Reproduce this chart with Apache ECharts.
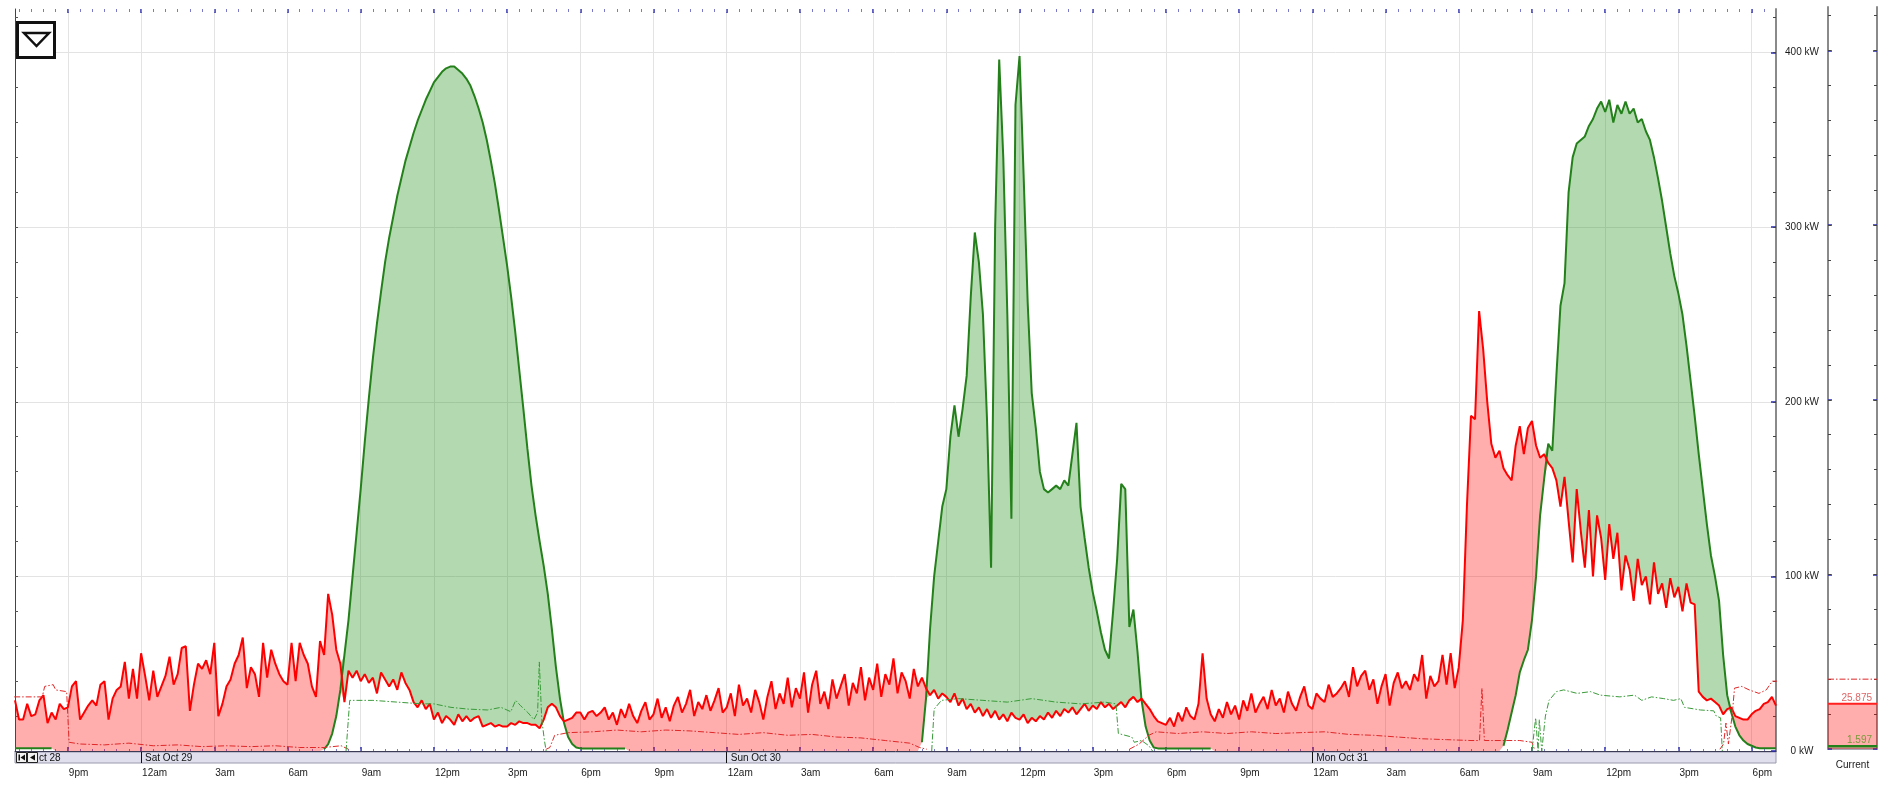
<!DOCTYPE html>
<html>
<head>
<meta charset="utf-8">
<title>Demand and solar, Oct 28 - Oct 31</title>
<script src="https://cdn.jsdelivr.net/npm/echarts@6/dist/echarts.min.js"></script>
<style>
  html, body { margin: 0; padding: 0; background: #fff; }
  #chart { width: 1892px; height: 785px; }
</style>
</head>
<body>
<div id="chart"></div>
<script>
// x values are hours counted from Fri Oct 28 00:00
const T0 = 18 + 50 / 60; // first sample: Fri 6:50pm
const STEP = 1 / 6;      // 10 minute samples

const tickHours = [21, 24, 27, 30, 33, 36, 39, 42, 45, 48, 51, 54, 57, 60, 63, 66, 69, 72, 75, 78, 81, 84, 87, 90];
const tickLabels = ["9pm", "12am", "3am", "6am", "9am", "12pm", "3pm", "6pm",
  "9pm", "12am", "3am", "6am", "9am", "12pm", "3pm", "6pm",
  "9pm", "12am", "3am", "6am", "9am", "12pm", "3pm", "6pm"];
const dayHours = [24, 48, 72];
const dayLabels = ["Sat Oct 29", "Sun Oct 30", "Mon Oct 31"];
const kwTicks = [0, 100, 200, 300, 400];

// site demand, kW (red)
const demandKw = [
  29,
  18, 18, 27, 20, 21, 29,   // Fri 19h
  32, 16, 22, 18, 27, 24,
  25, 37, 40, 18, 22, 26,
  29, 26, 38, 40, 18, 30,
  35, 37, 51, 30, 47, 30,
  56, 43, 29, 46, 31, 37,   // Sat 0h
  43, 54, 38, 44, 59, 60,
  23, 38, 50, 47, 52, 44,
  62, 20, 27, 37, 41, 50,
  55, 65, 36, 48, 44, 31,
  62, 42, 58, 50, 44, 40,
  38, 62, 40, 62, 55, 50,   // Sat 6h
  37, 31, 63, 55, 90, 78,
  58, 50, 28, 46, 42, 46,
  40, 44, 39, 42, 33, 45,
  41, 37, 41, 35, 45, 39,
  35, 28, 25, 29, 24, 27,
  18, 22, 16, 20, 18, 15,   // Sat 12h
  21, 17, 20, 17, 19, 20,
  14, 15, 16, 14, 15, 14,
  14, 16, 15, 17, 16, 16,
  15, 15, 13, 18, 25, 27,
  25, 20, 17, 18, 19, 22,
  22, 18, 22, 23, 20, 22,   // Sat 18h
  25, 18, 22, 15, 24, 19,
  27, 20, 16, 23, 28, 18,
  21, 30, 19, 25, 17, 26,
  31, 22, 27, 35, 20, 28,
  24, 32, 23, 29, 36, 22,
  25, 33, 20, 38, 26, 30,   // Sun 0h
  22, 35, 28, 18, 31, 40,
  24, 33, 27, 42, 25, 36,
  30, 45, 22, 38, 46, 27,
  34, 24, 41, 30, 37, 44,
  26, 39, 33, 48, 29, 42,
  35, 50, 31, 44, 38, 53,   // Sun 6h
  33, 45, 40, 30, 47, 37,
  42, 36, 32, 35, 30, 33,
  31, 28, 33, 26, 30, 24,
  27, 22, 25, 20, 24, 19,
  23, 18, 21, 17, 22, 19,
  18, 21, 16, 19, 17, 20,   // Sun 12h
  18, 22, 19, 23, 20, 24,
  22, 25, 21, 24, 27, 23,
  26, 24, 28, 25, 27, 24,
  26, 28, 25, 29, 31, 28,
  30, 27, 24, 20, 17, 16,
  15, 19, 14, 22, 17, 25,   // Sun 18h
  20, 18, 27, 56, 30, 21,
  17, 24, 19, 28, 21, 26,
  18, 29, 23, 33, 22, 27,
  31, 24, 35, 26, 30, 22,
  34, 27, 23, 31, 37, 26,
  24, 33, 30, 28, 38, 31,   // Mon 0h
  33, 36, 40, 31, 48, 37,
  43, 46, 35, 41, 27, 37,
  44, 26, 39, 45, 36, 40,
  35, 44, 40, 55, 30, 43,
  37, 40, 55, 38, 56, 36,
  48, 75, 140, 192, 190, 252,   // Mon 6h
  230, 200, 176, 168, 172, 162,
  158, 155, 175, 186, 170, 185,
  189, 175, 168, 170, 165, 162,
  155, 140, 157, 132, 108, 150,
  126, 105, 138, 100, 135, 122,
  98, 130, 110, 125, 92, 112,   // Mon 12h
  104, 86, 110, 95, 100, 84,
  108, 90, 96, 82, 99, 88,
  94, 80, 96, 85, 84, 34,
  31, 29, 30, 28, 26, 21,
  24, 25, 20, 19, 18, 18,
  21, 23, 24, 27, 28, 31,   // Mon 18h
  26
];

// solar output, kW (green)
const solarKw = [
  1.6,
  1.6, 1.6, 1.6, 1.6, 1.6, 1.6,   // Fri 19h
  1.6, 1.6, 1.6, 0, 0, 0,
  0, 0, 0, 0, 0, 0,
  0, 0, 0, 0, 0, 0,
  0, 0, 0, 0, 0, 0,
  0, 0, 0, 0, 0, 0,   // Sat 0h
  0, 0, 0, 0, 0, 0,
  0, 0, 0, 0, 0, 0,
  0, 0, 0, 0, 0, 0,
  0, 0, 0, 0, 0, 0,
  0, 0, 0, 0, 0, 0,
  0, 0, 0, 0, 0, 0,   // Sat 6h
  0, 0, 0, 1, 4, 10,
  20, 35, 55, 75, 100, 125,
  150, 177, 202, 225, 245, 263,
  280, 294, 306, 318, 328, 338,
  346, 354, 361, 367, 373, 378,
  383, 386, 389, 391, 392, 392,   // Sat 12h
  390, 388, 385, 381, 375, 368,
  360, 350, 338, 325, 310, 294,
  278, 260, 240, 218, 196, 173,
  152, 135, 120, 106, 90, 70,
  48, 30, 16, 8, 4, 2,
  1.5, 1.5, 1.5, 1.5, 1.5, 1.5,   // Sat 18h
  1.5, 1.5, 1.5, 1.5, 1.5, 1.5,
  0, 0, 0, 0, 0, 0,
  0, 0, 0, 0, 0, 0,
  0, 0, 0, 0, 0, 0,
  0, 0, 0, 0, 0, 0,
  0, 0, 0, 0, 0, 0,   // Sun 0h
  0, 0, 0, 0, 0, 0,
  0, 0, 0, 0, 0, 0,
  0, 0, 0, 0, 0, 0,
  0, 0, 0, 0, 0, 0,
  0, 0, 0, 0, 0, 0,
  0, 0, 0, 0, 0, 0,   // Sun 6h
  0, 0, 0, 0, 0, 0,
  5, 30, 70, 100, 120, 140,
  150, 180, 198, 180, 196, 215,
  260, 297, 280, 250, 190, 105,
  300, 396, 340, 250, 133, 370,
  398, 330, 257, 205, 185, 160,   // Sun 12h
  150, 148, 150, 152, 150, 155,
  152, 170, 188, 140, 122, 105,
  91, 80, 68, 58, 53, 80,
  110, 153, 150, 71, 81, 57,
  29, 14, 6, 2, 1.5, 1.5,
  1.5, 1.5, 1.5, 1.5, 1.5, 1.5,   // Sun 18h
  1.5, 1.5, 1.5, 1.5, 1.5, 1.5,
  0, 0, 0, 0, 0, 0,
  0, 0, 0, 0, 0, 0,
  0, 0, 0, 0, 0, 0,
  0, 0, 0, 0, 0, 0,
  0, 0, 0, 0, 0, 0,   // Mon 0h
  0, 0, 0, 0, 0, 0,
  0, 0, 0, 0, 0, 0,
  0, 0, 0, 0, 0, 0,
  0, 0, 0, 0, 0, 0,
  0, 0, 0, 0, 0, 0,
  0, 0, 0, 0, 0, 0,   // Mon 6h
  0, 0, 0, 0, 0, 3,
  12, 22, 32, 45, 52, 58,
  75, 100, 135, 156, 176, 172,
  215, 255, 268, 320, 340, 348,
  350, 352, 358, 362, 368, 372,
  366, 373, 360, 370, 365, 372,   // Mon 12h
  365, 368, 360, 362, 355, 350,
  340, 328, 315, 300, 285, 272,
  262, 250, 232, 212, 192, 170,
  150, 130, 112, 100, 86, 55,
  32, 22, 14, 9, 6, 4,
  3, 2, 1.6, 1.6, 1.6, 1.6,   // Mon 18h
  1.6
];

// dash-dot reference lines, [hour, kW]; null breaks the line
const demandRefPts = [
  [18.8, 31], [19.95, 31], [20.05, 37], [20.4, 38], [20.5, 35], [20.95, 34], [21.05, 5], [21.5, 4],
  [22.5, 3.5], [23.5, 4.5], [24.5, 3], [25.5, 3.5], [26.5, 2.5], [27.5, 3], [28.5, 2.5], [29.5, 3],
  [30.5, 2], [31.5, 2], [32.2, 3], [32.5, 1], [33, null],
  [40.6, 1], [40.75, 2], [40.95, 9], [41.5, 10.5], [42.5, 11], [43.5, 12], [44.5, 11], [45.5, 12],
  [46.5, 11.5], [47.5, 10.5], [48.5, 9.5], [49.5, 10.5], [50.5, 9], [51.5, 9.5], [52.5, 8], [53.5, 7.5],
  [54.5, 6], [55.5, 4.5], [55.9, 2], [56.2, 1], [57, null],
  [64.5, 1], [64.9, 4], [65.3, 9], [65.6, 11], [66.5, 10], [67.5, 11], [68.5, 10], [69.5, 11],
  [70.5, 10], [71.5, 10.5], [72.5, 11], [73.5, 9.5], [74.5, 9], [75.5, 8], [76.5, 7], [77.5, 6.5],
  [78.5, 6], [78.85, 6], [78.95, 36], [79.05, 6], [80.5, 6], [81.0, 5], [81.1, 1], [82, null],
  [88.7, 1], [88.85, 4], [88.95, 16], [89.05, 4], [89.2, 20], [89.3, 36], [89.6, 37], [89.9, 35],
  [90.3, 33], [90.6, 35], [90.85, 40], [91.1, 40]
];
const solarRefPts = [
  [32.4, 0], [32.55, 29], [33.5, 29], [34.5, 28], [35.5, 27], [36.0, 27], [36.7, 25], [37.4, 24],
  [38.2, 23.5], [38.75, 25], [39.15, 22.5], [39.35, 29], [39.55, 26], [39.85, 22], [40.1, 18],
  [40.25, 22], [40.32, 51], [40.42, 18], [40.53, 6], [40.6, 0], [41, null],
  [56.4, 0], [56.5, 24], [56.8, 29], [57.5, 30], [58.5, 29], [59.5, 28], [60.5, 30], [61.5, 28],
  [62.5, 27], [63.5, 28], [63.95, 27], [64.05, 10], [64.6, 8], [64.7, 5], [65.0, 6], [65.3, 3],
  [65.45, 0], [66, null],
  [81.0, 0], [81.15, 19], [81.25, 0], [81.3, 18], [81.4, 0], [81.55, 20], [81.7, 29], [82.0, 34],
  [82.3, 35], [82.85, 33], [83.4, 34], [83.8, 32], [84.6, 31], [85.2, 32], [85.5, 29], [85.9, 31],
  [86.4, 30], [86.8, 29], [87.1, 30], [87.25, 25], [87.9, 23.5], [88.45, 23], [88.55, 20],
  [88.73, 19], [88.8, 0]
];

const currentDemand = 25.875;
const currentDemandRef = 40;
const currentSolar = 1.597;

// ---- derived ----
const hours = demandKw.map((_, i) => T0 + i * STEP);
const X_MIN = hours[0];
const X_MAX = hours[hours.length - 1];
const pts = (arr) => arr.map((v, i) => [hours[i], v]);
// fills are stacked on a category axis (one slot per sample) that lines up with the value axis
const lowKw = demandKw.map((d, i) => Math.min(d, solarKw[i]));
const importKw = demandKw.map((d, i) => Math.max(d - solarKw[i], 0));
const exportKw = demandKw.map((d, i) => Math.max(solarKw[i] - d, 0));
const solarLine = solarKw.map((v) => (v > 0 ? v : null));

const halfHours = [];
for (let h = 19; h <= 91; h += 0.5) halfHours.push(h);
const minorKw = [];
for (let k = 20; k <= 420; k += 20) minorKw.push(k);

const labelAt = (hs, labels) => (v) => {
  const i = hs.findIndex((h) => Math.abs(h - v) < 1e-6);
  return i < 0 ? "" : labels[i];
};

const FONT = "Liberation Sans, Arial, sans-serif";
const MAJOR_TICK = { color: "#2b2bb0", width: 1.5 };
const MINOR_TICK = { color: "#7a7ac8", width: 1 };

const timeAxis = (extra) =>
  Object.assign(
    {
      type: "value",
      min: X_MIN,
      max: X_MAX,
      axisLine: { show: false, onZero: false },
      axisTick: { show: false },
      axisLabel: { show: false },
      splitLine: { show: false },
    },
    extra
  );

const kwAxis = (extra) =>
  Object.assign(
    {
      type: "value",
      min: 0,
      max: 425,
      axisLine: { show: false },
      axisTick: { show: false },
      axisLabel: { show: false },
      splitLine: { show: false },
    },
    extra
  );

const option = {
  backgroundColor: "#ffffff",
  animation: false,
  textStyle: { fontFamily: FONT },
  grid: [
    { left: 15, right: 116, top: 9, bottom: 34, outerBoundsMode: "none" },
    {
      left: 15, right: 116, top: 752, height: 11, outerBoundsMode: "none",
      show: true, backgroundColor: "#dfdfee", borderColor: "#9a9aae", borderWidth: 1,
    },
    { left: 1828, right: 15, top: 7, bottom: 36, outerBoundsMode: "none" },
  ],
  xAxis: [
    timeAxis({
      gridIndex: 0, position: "bottom",
      axisLine: { show: true, onZero: false, lineStyle: { color: "#3b3b55", width: 1 } },
      axisTick: { show: true, inside: true, length: 4, customValues: tickHours, lineStyle: MAJOR_TICK },
      splitLine: { show: true, lineStyle: { color: "#e3e3e3", width: 1 } },
    }),
    timeAxis({
      gridIndex: 0, position: "top",
      axisTick: { show: true, inside: true, length: 4, customValues: tickHours, lineStyle: MAJOR_TICK },
    }),
    timeAxis({
      gridIndex: 0, position: "bottom",
      axisTick: { show: true, inside: true, length: 2, customValues: halfHours, lineStyle: MINOR_TICK },
    }),
    timeAxis({
      gridIndex: 0, position: "top",
      axisTick: { show: true, inside: true, length: 3, customValues: halfHours, lineStyle: MINOR_TICK },
    }),
    timeAxis({
      gridIndex: 1, position: "bottom",
      axisLabel: {
        show: true, customValues: tickHours, formatter: labelAt(tickHours, tickLabels),
        align: "left", margin: 5, fontSize: 10, color: "#1a1a1a", padding: [0, 0, 0, 1],
      },
    }),
    timeAxis({
      gridIndex: 1, position: "top",
      axisTick: { show: false, customValues: dayHours },
      axisLabel: {
        show: true, inside: true, customValues: dayHours, formatter: labelAt(dayHours, dayLabels),
        align: "left", verticalAlign: "middle", margin: 6, fontSize: 10, color: "#111", padding: [0, 0, 0, 4],
      },
      splitLine: { show: true, lineStyle: { color: "#111", width: 1 } },
    }),
    {
      type: "value", gridIndex: 2, min: 0, max: 1,
      name: "Current", nameLocation: "middle", nameGap: 11,
      nameTextStyle: { fontSize: 10, color: "#1a1a1a" },
      axisLine: { show: true, onZero: false, lineStyle: { color: "#8a8a9a", width: 1.5 } },
      axisTick: { show: false },
      axisLabel: { show: false },
      splitLine: { show: false },
    },
    // hidden sample axis for the stacked fills
    {
      type: "category", gridIndex: 0, position: "bottom", data: hours.map(String),
      boundaryGap: false, show: false,
    },
  ],
  yAxis: [
    kwAxis({
      gridIndex: 0, position: "right",
      axisLine: { show: true, lineStyle: { color: "#8a8a8a", width: 2 } },
      axisTick: { show: true, inside: true, length: 5, customValues: kwTicks, lineStyle: MAJOR_TICK },
      axisLabel: {
        show: true, customValues: kwTicks, formatter: (v) => v + " kW",
        align: "center", margin: 26, fontSize: 10, color: "#1a1a1a",
      },
      splitLine: { show: true, showMinLine: false, lineStyle: { color: "#e3e3e3", width: 1 } },
    }),
    kwAxis({
      gridIndex: 0, position: "right",
      axisTick: { show: true, inside: true, length: 3, customValues: minorKw, lineStyle: { color: "#444" } },
    }),
    kwAxis({
      gridIndex: 0, position: "left",
      axisLine: { show: true, lineStyle: { color: "#444", width: 1 } },
      axisTick: { show: true, inside: true, length: 3, customValues: minorKw, lineStyle: { color: "#555" } },
    }),
    kwAxis({
      gridIndex: 2, position: "left",
      axisLine: { show: true, lineStyle: { color: "#8a8a8a", width: 2 } },
      axisTick: { show: true, inside: true, length: 4, customValues: kwTicks, lineStyle: MAJOR_TICK },
    }),
    kwAxis({
      gridIndex: 2, position: "left",
      axisTick: { show: true, inside: true, length: 3, customValues: minorKw, lineStyle: { color: "#444" } },
    }),
    kwAxis({
      gridIndex: 2, position: "right",
      axisLine: { show: true, lineStyle: { color: "#8a8a8a", width: 2 } },
      axisTick: { show: true, inside: true, length: 4, customValues: kwTicks, lineStyle: MAJOR_TICK },
    }),
    kwAxis({
      gridIndex: 2, position: "right",
      axisTick: { show: true, inside: true, length: 3, customValues: minorKw, lineStyle: { color: "#444" } },
    }),
    { type: "value", gridIndex: 1, min: 0, max: 1, show: false },
  ],
  series: [
    // net fill: pink where demand is above solar, green where solar is above demand
    {
      name: "base", type: "line", xAxisIndex: 7, stack: "net", data: lowKw,
      symbol: "none", lineStyle: { width: 0 }, silent: true, z: 2,
    },
    {
      name: "import", type: "line", xAxisIndex: 7, stack: "net", data: importKw,
      symbol: "none", lineStyle: { width: 0 }, areaStyle: { color: "rgba(255,0,0,0.32)", opacity: 1 },
      silent: true, z: 2,
    },
    {
      name: "export", type: "line", xAxisIndex: 7, stack: "net", data: exportKw,
      symbol: "none", lineStyle: { width: 0 }, areaStyle: { color: "rgba(35,145,25,0.35)", opacity: 1 },
      silent: true, z: 2,
    },
    {
      name: "solar", type: "line", data: pts(solarLine),
      symbol: "none", lineStyle: { color: "#24801a", width: 2 }, z: 4,
    },
    {
      name: "demand", type: "line", data: pts(demandKw),
      symbol: "none", lineStyle: { color: "#ff0000", width: 2 }, z: 5,
    },
    {
      name: "demand ref", type: "line", data: demandRefPts,
      symbol: "none", lineStyle: { color: "#e02828", width: 1, type: [6, 2, 1.5, 2] }, z: 6,
    },
    {
      name: "solar ref", type: "line", data: solarRefPts,
      symbol: "none", lineStyle: { color: "#3a9a3a", width: 1, type: [6, 2, 1.5, 2] }, z: 6,
    },
    // current values panel
    {
      name: "current demand", type: "line", xAxisIndex: 6, yAxisIndex: 3,
      data: [[0, currentDemand], { value: [1, currentDemand], label: { show: true } }],
      symbol: "circle", symbolSize: 0, showSymbol: true,
      lineStyle: { color: "#ff2020", width: 2 },
      areaStyle: { color: "rgba(255,0,0,0.32)", opacity: 1 },
      label: {
        show: false, position: "top", align: "right", distance: 1, offset: [-5, 0],
        formatter: (p) => String(p.value[1]), color: "#e06666", fontSize: 10,
      },
      z: 3,
    },
    {
      name: "current demand ref", type: "line", xAxisIndex: 6, yAxisIndex: 3,
      data: [[0, currentDemandRef], [1, currentDemandRef]],
      symbol: "none", lineStyle: { color: "#e02828", width: 1, type: [6, 2, 1.5, 2] }, z: 4,
    },
    {
      name: "current solar", type: "line", xAxisIndex: 6, yAxisIndex: 3,
      data: [[0, currentSolar], { value: [1, currentSolar], label: { show: true } }],
      symbol: "circle", symbolSize: 0, showSymbol: true,
      lineStyle: { color: "#24801a", width: 2.5 },
      label: {
        show: false, position: "top", align: "right", distance: 1, offset: [-5, 0],
        formatter: (p) => String(p.value[1]), color: "#7a9a3a", fontSize: 10,
      },
      z: 5,
    },
  ],
  graphic: [
    // menu button, top left
    {
      type: "rect", z: 100, shape: { x: 17.5, y: 22.5, width: 37, height: 35 },
      style: { fill: "#ffffff", stroke: "#111", lineWidth: 3 },
    },
    {
      type: "polygon", z: 101, shape: { points: [[24, 33], [49, 33], [36.5, 46]] },
      style: { fill: "none", stroke: "#111", lineWidth: 2.5 },
    },
    // scroll buttons in the date band
    {
      type: "rect", z: 100, shape: { x: 16.5, y: 752.5, width: 10, height: 10 },
      style: { fill: "#f2f2f2", stroke: "#222", lineWidth: 1 },
    },
    { type: "rect", z: 101, shape: { x: 18.5, y: 754.5, width: 1.5, height: 6 }, style: { fill: "#111" } },
    { type: "polygon", z: 101, shape: { points: [[25, 754.5], [25, 760.5], [20.5, 757.5]] }, style: { fill: "#111" } },
    {
      type: "rect", z: 100, shape: { x: 27.5, y: 752.5, width: 10, height: 10 },
      style: { fill: "#f2f2f2", stroke: "#222", lineWidth: 1 },
    },
    { type: "polygon", z: 101, shape: { points: [[35, 754.5], [35, 760.5], [30, 757.5]] }, style: { fill: "#111" } },
    {
      type: "text", z: 101, x: 39, y: 758,
      style: { text: "ct 28", fontSize: 10, fontFamily: FONT, fill: "#111", verticalAlign: "middle" },
    },
  ],
};

const chart = echarts.init(document.getElementById("chart"));
chart.setOption(option);
</script>
</body>
</html>
